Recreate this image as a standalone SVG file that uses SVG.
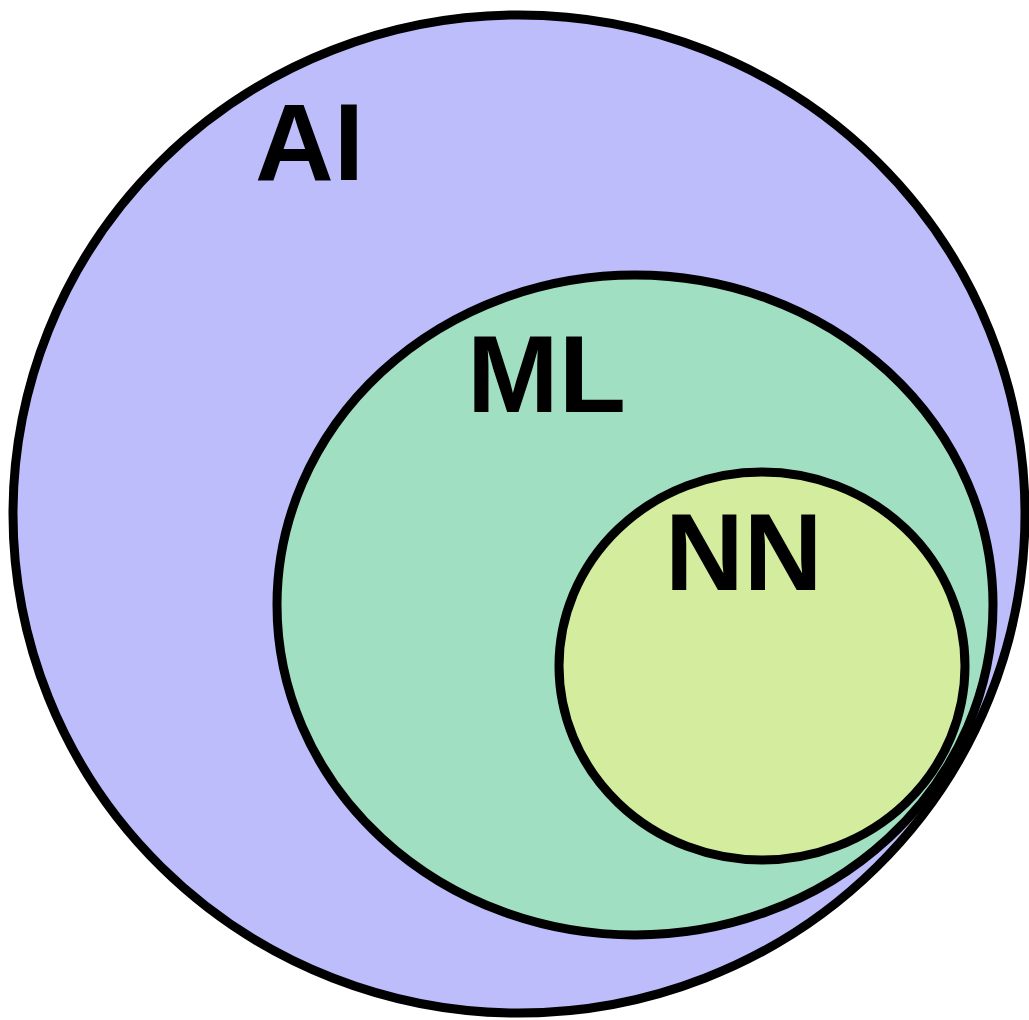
<svg xmlns="http://www.w3.org/2000/svg" width="1029" height="1020" viewBox="0 0 1029 1020">
<style>
.set{stroke:#000;stroke-width:9}
.lbl{font-family:"Liberation Sans",Arial,sans-serif;font-weight:bold;fill:#000}
</style>
<rect width="1029" height="1020" fill="#fff"/>
<g id="ai">
<ellipse class="set" cx="519" cy="514" rx="506" ry="499" fill="#bdbdfb"/>
<text class="lbl" x="255" y="180" font-size="109">AI</text>
</g>
<g id="ml">
<ellipse class="set" cx="635" cy="605" rx="358" ry="330" fill="#a1dfc3"/>
<text class="lbl" x="467" y="412" font-size="110">ML</text>
</g>
<g id="nn">
<ellipse class="set" cx="762" cy="666" rx="203" ry="194" fill="#d4ec9d"/>
<text class="lbl" x="665" y="590" font-size="109">NN</text>
</g>
<g id="connectors"/>
</svg>
